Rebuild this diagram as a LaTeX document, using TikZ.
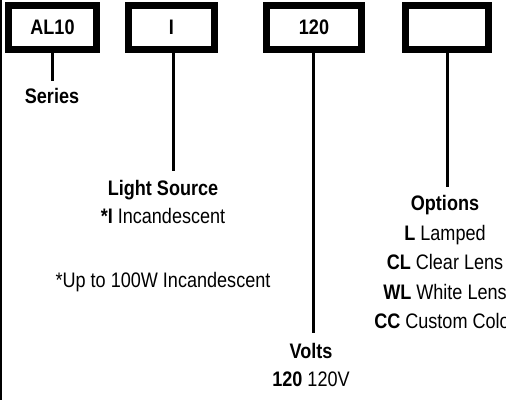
\documentclass[tikz,border=0pt]{standalone}
\usepackage{fontspec}
\setmainfont{Liberation Sans}[FakeStretch=0.86]
\begin{document}
\begin{tikzpicture}[x=1pt,y=-1pt,
  codebox/.style={draw,line width=7pt,minimum height=44pt,inner sep=0pt,font=\fontsize{21}{23}\selectfont\bfseries},
  conn/.style={line width=3pt},
  lbl/.style={font=\fontsize{21}{29}\selectfont,align=center,inner sep=0pt}]
\useasboundingbox (0,0) rectangle (506,400);
\draw[line width=2pt] (1,0) -- (1,400);
\node[codebox,minimum width=88pt] (b1) at (52.5,27.5) {AL10};
\node[codebox,minimum width=86pt] (b2) at (171.5,27.5) {I};
\node[codebox,minimum width=95pt] (b3) at (314,27.5) {120};
\node[codebox,minimum width=83pt] (b4) at (447,27.5) {};
\coordinate (e1) at (52,81);
\coordinate (e2) at (173,171);
\coordinate (e3) at (313,333);
\coordinate (e4) at (447,187);
\draw[conn] (b1.south -| e1) -- (e1);
\draw[conn] (b2.south -| e2) -- (e2);
\draw[conn] (b3.south -| e3) -- (e3);
\draw[conn] (b4.south -| e4) -- (e4);
\node[lbl,anchor=base] (t1) at (52,103) {\textbf{Series}};
\node[lbl,anchor=base] (t2) at (163,195) {\textbf{Light Source}};
\node[lbl,anchor=base] (t2b) at (163,223) {\textbf{*I} Incandescent};
\node[lbl,anchor=base] (t2c) at (163,287) {*Up to 100W Incandescent};
\node[lbl,anchor=base] (t3) at (311,358) {\textbf{Volts}};
\node[lbl,anchor=base] (t3b) at (311,386) {\textbf{120} 120V};
\node[lbl,anchor=base] (t4) at (445,210) {\textbf{Options}};
\node[lbl,anchor=base] (t4a) at (445,240) {\textbf{L} Lamped};
\node[lbl,anchor=base] (t4b) at (445,269) {\textbf{CL} Clear Lens};
\node[lbl,anchor=base] (t4c) at (445,299) {\textbf{WL} White Lens};
\node[lbl,anchor=base] (t4d) at (445,328) {\textbf{CC} Custom Color};
\end{tikzpicture}
\end{document}
